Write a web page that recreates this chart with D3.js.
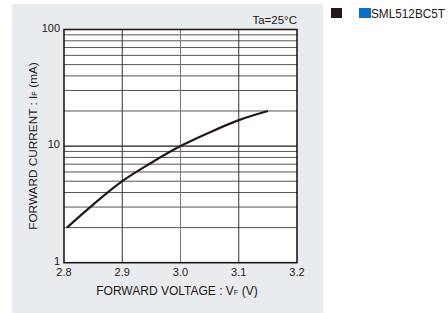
<!DOCTYPE html>
<html>
<head>
<meta charset="utf-8">
<script src="https://cdn.jsdelivr.net/npm/d3@7"></script>
<style>
  body { margin: 0; background: #fff; }
  text { font-family: "Liberation Sans", Arial, sans-serif; fill: #231815; }
</style>
</head>
<body>
<script>
// forward voltage (V) vs forward current (mA)
var vf = [2.805, 2.85, 2.9, 2.95, 3.0, 3.05, 3.1, 3.15];
var ifwd = [2.0, 3.15, 5.0, 7.2, 10, 13.1, 16.7, 20];

var xTicks = [2.8, 2.9, 3.0, 3.1, 3.2];
var yTicks = [1, 10, 100];
var yGrid = [2, 3, 4, 5, 6, 7, 8, 9, 10, 20, 30, 40, 50, 60, 70, 80, 90];

var W = 448, H = 313;
var svg = d3.select("body").append("svg")
    .attr("width", W)
    .attr("height", H);

// grey panel behind the chart
svg.append("rect")
    .attr("x", 12).attr("y", 4)
    .attr("width", 311).attr("height", H - 4)
    .attr("fill", "#e9ecef");

var x = d3.scaleLinear().domain([2.8, 3.2]).range([64, 297]);
var y = d3.scaleLog().domain([1, 100]).range([262.7, 29.5]);

svg.append("rect")
    .attr("x", x(2.8)).attr("y", y(100))
    .attr("width", x(3.2) - x(2.8)).attr("height", y(1) - y(100))
    .attr("fill", "#fff");

// grid
svg.selectAll(".hgrid")
    .data(yGrid)
    .enter().append("line")
    .attr("class", "hgrid")
    .attr("x1", x(2.8)).attr("x2", x(3.2))
    .attr("y1", d => y(d)).attr("y2", d => y(d))
    .attr("stroke", d => (d === 10 ? "#231815" : "#555"))
    .attr("stroke-width", d => (d === 10 ? 1.3 : 1));

svg.selectAll(".vgrid")
    .data(xTicks.slice(1, -1))
    .enter().append("line")
    .attr("class", "vgrid")
    .attr("x1", d => x(d)).attr("x2", d => x(d))
    .attr("y1", y(100)).attr("y2", y(1))
    .attr("stroke", (d, i) => (i === 1 ? "#777" : "#333"))
    .attr("stroke-width", 1);

// frame
svg.append("rect")
    .attr("x", x(2.8)).attr("y", y(100))
    .attr("width", x(3.2) - x(2.8)).attr("height", y(1) - y(100))
    .attr("fill", "none")
    .attr("stroke", "#231815")
    .attr("stroke-width", 1.6);

// curve
var line = d3.line()
    .x((d, i) => x(vf[i]))
    .y(d => y(d))
    .curve(d3.curveMonotoneX);

svg.append("path")
    .attr("d", line(ifwd))
    .attr("fill", "none")
    .attr("stroke", "#231815")
    .attr("stroke-width", 2.2);

// tick labels
svg.selectAll(".xt")
    .data(xTicks)
    .enter().append("text")
    .attr("x", d => x(d))
    .attr("y", 275.5)
    .attr("text-anchor", "middle")
    .attr("font-size", 11)
    .text(d => d.toFixed(1));

svg.selectAll(".yt")
    .data(yTicks)
    .enter().append("text")
    .attr("x", 60)
    .attr("y", d => y(d) + 2)
    .attr("text-anchor", "end")
    .attr("font-size", 11)
    .text(d => d);

// axis titles
var xt = svg.append("text")
    .attr("x", 177).attr("y", 295)
    .attr("text-anchor", "middle")
    .attr("font-size", 12);
xt.append("tspan").text("FORWARD VOLTAGE : V");
xt.append("tspan").attr("font-size", 7.5).text("F");
xt.append("tspan").text("  (V)");

var yt = svg.append("text")
    .attr("transform", "translate(37,146) rotate(-90)")
    .attr("text-anchor", "middle")
    .attr("font-size", 11.8);
yt.append("tspan").text("FORWARD CURRENT : I");
yt.append("tspan").attr("font-size", 7.5).text("F");
yt.append("tspan").text("  (mA)");

svg.append("text")
    .attr("x", 297).attr("y", 24)
    .attr("text-anchor", "end")
    .attr("font-size", 11.5)
    .text("Ta=25°C");

// legend
svg.append("rect")
    .attr("x", 331).attr("y", 8)
    .attr("width", 11).attr("height", 10)
    .attr("fill", "#231815");
svg.append("rect")
    .attr("x", 359).attr("y", 8)
    .attr("width", 12).attr("height", 10)
    .attr("fill", "#0f6fc6");
svg.append("text")
    .attr("x", 371).attr("y", 18)
    .attr("font-size", 12)
    .attr("textLength", 74)
    .attr("lengthAdjust", "spacingAndGlyphs")
    .text("SML512BC5T");
</script>
</body>
</html>
